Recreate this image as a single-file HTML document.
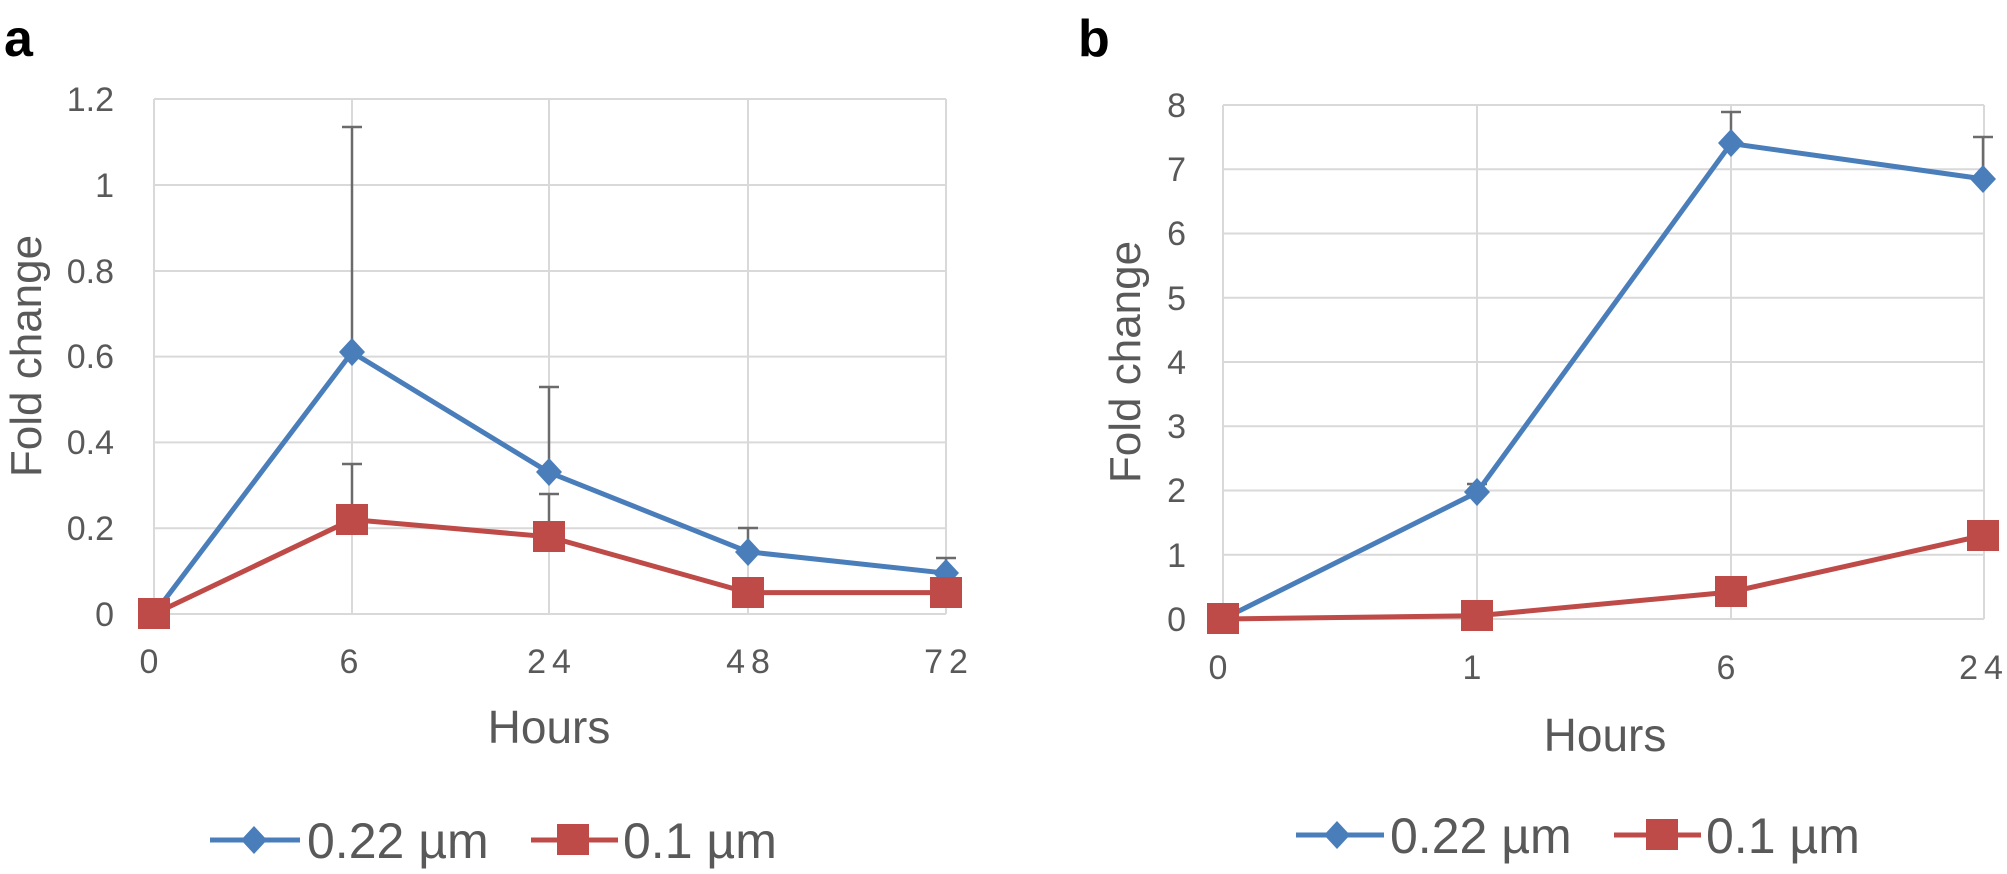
<!DOCTYPE html>
<html><head><meta charset="utf-8"><style>
html,body{margin:0;padding:0;background:#fff}
svg{display:block}
text{font-family:"Liberation Sans",sans-serif;fill:#595959}
</style></head><body>
<svg width="2007" height="874" viewBox="0 0 2007 874" xmlns="http://www.w3.org/2000/svg">
<!-- Panel a -->
<text x="4" y="56" font-size="52" font-weight="bold" style="fill:#000">a</text>
<g stroke="#d9d9d9" stroke-width="2" fill="none">
<line x1="154" y1="99" x2="946" y2="99"/>
<line x1="154" y1="185" x2="946" y2="185"/>
<line x1="154" y1="271" x2="946" y2="271"/>
<line x1="154" y1="356.6" x2="946" y2="356.6"/>
<line x1="154" y1="442.4" x2="946" y2="442.4"/>
<line x1="154" y1="528.2" x2="946" y2="528.2"/>
<line x1="154" y1="614" x2="946" y2="614"/>
<line x1="154" y1="99" x2="154" y2="614"/>
<line x1="352" y1="99" x2="352" y2="614"/>
<line x1="549" y1="99" x2="549" y2="614"/>
<line x1="748" y1="99" x2="748" y2="614"/>
<line x1="946" y1="99" x2="946" y2="614"/>
</g>
<g font-size="34" text-anchor="end">
<text x="114" y="111">1.2</text>
<text x="114" y="197">1</text>
<text x="114" y="283">0.8</text>
<text x="114" y="368">0.6</text>
<text x="114" y="454">0.4</text>
<text x="114" y="540">0.2</text>
<text x="114" y="626">0</text>
</g>
<g font-size="34" text-anchor="middle" letter-spacing="6">
<text x="152" y="673">0</text>
<text x="352" y="673">6</text>
<text x="552" y="673">24</text>
<text x="751" y="673">48</text>
<text x="949" y="673">72</text>
</g>
<text x="549" y="743" font-size="46" text-anchor="middle">Hours</text>
<text transform="translate(41,356) rotate(-90)" font-size="44" text-anchor="middle">Fold change</text>
<g stroke="#6b6b6b" stroke-width="2.5">
<line x1="352" y1="352" x2="352" y2="127"/><line x1="342" y1="127" x2="362" y2="127"/>
<line x1="549" y1="472" x2="549" y2="387"/><line x1="539" y1="387" x2="559" y2="387"/>
<line x1="748" y1="552" x2="748" y2="528"/><line x1="738" y1="528" x2="758" y2="528"/>
<line x1="946" y1="573" x2="946" y2="558"/><line x1="936" y1="558" x2="956" y2="558"/>
<line x1="352" y1="520" x2="352" y2="464"/><line x1="342" y1="464" x2="362" y2="464"/>
<line x1="549" y1="537" x2="549" y2="494"/><line x1="539" y1="494" x2="559" y2="494"/>
</g>
<polyline points="154,614 352,352.3 549,472.4 748,551.8 946,573.2" fill="none" stroke="#4a7ebb" stroke-width="5"/>
<g fill="#4a7ebb">
<polygon points="154,600 167,614 154,628 141,614"/>
<polygon points="352,338 365,352 352,366 339,352"/>
<polygon points="549,458 562,472 549,486 536,472"/>
<polygon points="748,538 761,552 748,566 735,552"/>
<polygon points="946,559 959,573 946,587 933,573"/>
</g>
<polyline points="154,614 352,519.6 549,536.8 748,592.6 946,592.6" fill="none" stroke="#be4b48" stroke-width="5"/>
<g fill="#be4b48">
<rect x="138" y="598" width="32" height="31"/>
<rect x="336" y="504" width="32" height="31"/>
<rect x="533" y="521" width="32" height="31"/>
<rect x="732" y="577" width="32" height="31"/>
<rect x="930" y="577" width="32" height="31"/>
</g>
<line x1="210" y1="840" x2="300" y2="840" stroke="#4a7ebb" stroke-width="5"/>
<polygon points="254,826 267,840 254,854 241,840" fill="#4a7ebb"/>
<text x="307" y="858" font-size="50">0.22 µm</text>
<line x1="531" y1="840" x2="618" y2="840" stroke="#be4b48" stroke-width="5"/>
<rect x="557" y="824" width="32" height="31" fill="#be4b48"/>
<text x="623" y="858" font-size="50">0.1 µm</text>

<!-- Panel b -->
<text x="1078" y="56" font-size="52" font-weight="bold" style="fill:#000">b</text>
<g stroke="#d9d9d9" stroke-width="2" fill="none">
<line x1="1223" y1="105" x2="1984" y2="105"/>
<line x1="1223" y1="169.25" x2="1984" y2="169.25"/>
<line x1="1223" y1="233.5" x2="1984" y2="233.5"/>
<line x1="1223" y1="297.75" x2="1984" y2="297.75"/>
<line x1="1223" y1="362" x2="1984" y2="362"/>
<line x1="1223" y1="426.25" x2="1984" y2="426.25"/>
<line x1="1223" y1="490.5" x2="1984" y2="490.5"/>
<line x1="1223" y1="554.75" x2="1984" y2="554.75"/>
<line x1="1223" y1="619" x2="1984" y2="619"/>
<line x1="1223" y1="105" x2="1223" y2="619"/>
<line x1="1477" y1="105" x2="1477" y2="619"/>
<line x1="1731" y1="105" x2="1731" y2="619"/>
<line x1="1984" y1="105" x2="1984" y2="619"/>
</g>
<g font-size="34" text-anchor="end">
<text x="1186" y="117">8</text>
<text x="1186" y="181">7</text>
<text x="1186" y="245">6</text>
<text x="1186" y="310">5</text>
<text x="1186" y="374">4</text>
<text x="1186" y="438">3</text>
<text x="1186" y="502">2</text>
<text x="1186" y="567">1</text>
<text x="1186" y="631">0</text>
</g>
<g font-size="34" text-anchor="middle" letter-spacing="6">
<text x="1221" y="679">0</text>
<text x="1475" y="679">1</text>
<text x="1729" y="679">6</text>
<text x="1984" y="679">24</text>
</g>
<text x="1605" y="751" font-size="46" text-anchor="middle">Hours</text>
<text transform="translate(1140,362) rotate(-90)" font-size="44" text-anchor="middle">Fold change</text>
<g stroke="#6b6b6b" stroke-width="2.5">
<line x1="1477" y1="492" x2="1477" y2="484"/><line x1="1467" y1="484" x2="1487" y2="484"/>
<line x1="1731" y1="143" x2="1731" y2="112"/><line x1="1721" y1="112" x2="1741" y2="112"/>
<line x1="1983" y1="179" x2="1983" y2="137"/><line x1="1973" y1="137" x2="1993" y2="137"/>
</g>
<polyline points="1223,619 1477,492.4 1731,143.5 1983,178.9" fill="none" stroke="#4a7ebb" stroke-width="5"/>
<g fill="#4a7ebb">
<polygon points="1223,605 1236,619 1223,633 1210,619"/>
<polygon points="1477,478 1490,492 1477,506 1464,492"/>
<polygon points="1731,129 1744,143 1731,157 1718,143"/>
<polygon points="1983,165 1996,179 1983,193 1970,179"/>
</g>
<polyline points="1223,619 1477,615.8 1731,592 1983,535.5" fill="none" stroke="#be4b48" stroke-width="5"/>
<g fill="#be4b48">
<rect x="1207" y="603" width="32" height="31"/>
<rect x="1461" y="600" width="32" height="31"/>
<rect x="1715" y="576" width="32" height="31"/>
<rect x="1967" y="520" width="32" height="31"/>
</g>
<line x1="1296" y1="835" x2="1384" y2="835" stroke="#4a7ebb" stroke-width="5"/>
<polygon points="1337,821 1350,835 1337,849 1324,835" fill="#4a7ebb"/>
<text x="1390" y="853" font-size="50">0.22 µm</text>
<line x1="1614" y1="835" x2="1701" y2="835" stroke="#be4b48" stroke-width="5"/>
<rect x="1646" y="819" width="32" height="31" fill="#be4b48"/>
<text x="1706" y="853" font-size="50">0.1 µm</text>
</svg>
</body></html>
